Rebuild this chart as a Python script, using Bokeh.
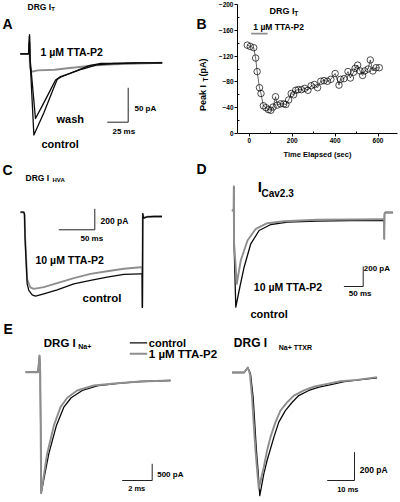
import math
from bokeh.plotting import figure
from bokeh.layouts import column, row
from bokeh.models import Range1d, FixedTicker
from bokeh.core.properties import value
from bokeh.embed import file_html
from bokeh.resources import INLINE

# ---------------- DATA ----------------
# Panel A: DRG T-type current (time ms, current pA)
a_ctrl_t = [-11, -1, 0, 0.6, 5.2, 17, 27, 33, 37, 45, 57, 71, 85, 105, 130, 158]
a_ctrl_i = [14, 14, 42, 8, -104, -72, -41, -23, -20, -16, -10, -3, 0, 0, 1, 1]
a_wash_t = [-11, -1, 0, 0.6, 7.1, 15, 23, 31, 37, 49, 63, 80, 100, 130, 158]
a_wash_i = [14, 14, 40, 8, -80, -62, -43, -24, -19, -14, -8, -2, 0, 1, 1]
a_tta_t = [-11, -1, 0, 0.5, 2, 10, 30, 45, 60, 75, 100, 130, 158]
a_tta_i = [14, 14, 30, -5, -12, -10, -9, -7, -5, -3, -1, 0, 1]
a_scale = (25, 50)          # ms, pA

# Panel B: peak I_T time course (sec, pA)
b_time = [-10, 4, 20, 29, 36, 47, 54, 65, 77, 89, 100, 110, 122, 130, 145, 160, 170,
          183, 195, 206, 216, 228, 243, 258, 273, 288, 303, 318, 333, 348, 364, 380,
          400, 418, 425, 441, 460, 471, 486, 493, 505, 516, 528, 538, 554, 564, 576,
          591, 606]
b_peak = [-137, -135, -133, -117, -96, -71, -62, -43, -40, -37, -36, -41, -57, -44,
          -46, -46, -45, -52, -62, -60, -67, -68, -68, -70, -67, -74, -76, -71, -81,
          -82, -81, -84, -93, -75, -84, -85, -96, -86, -95, -101, -106, -97, -90, -97,
          -100, -114, -97, -102, -102]
b_tta_period = [8, 85]
b_tta_level = -155
b_xticks = [0, 200, 400, 600]
b_xminor = [100, 300, 500]
b_yticks = [0, -40, -80, -120, -160, -200]
b_yminor = [-20, -60, -100, -140, -180]

# Panel C: DRG HVA current (ms, pA)
c_ctrl_t = [-5.6, -1, 0, 0.8, 3.7, 6, 10.7, 15.3, 26.8, 45.4, 68.5, 91.7, 114.8, 138,
            161, 163.4, 163.7, 164.3, 165.5, 170, 180, 191]
c_ctrl_i = [0, 0, -20, -250, -682, -745, -788, -800, -777, -739, -682, -650, -619,
            -593, -587, -587, -907, -15, -57, -44, -41, -41]
c_tta_t = [-5.6, -1, 0, 0.8, 3.7, 8, 12.9, 26.8, 45.4, 68.5, 91.7, 114.8, 138, 161,
           163.4, 163.7, 164.3, 165.5, 170, 180, 191]
c_tta_i = [0, 0, -20, -230, -640, -715, -730, -714, -676, -628, -587, -562, -539,
           -524, -524, -900, -15, -57, -44, -41, -41]
c_scale = (50, 200)

# Panel D: CaV2.3 current (ms, pA)
d_ctrl_t = [-5, -0.5, 0, 0.4, 5.2, 13.8, 26.7, 44, 65.6, 95.8, 139, 217, 303, 385,
            389.6, 389.9, 390.4, 392, 412]
d_ctrl_i = [0, 0, 240, -300, -967, -800, -567, -333, -200, -140, -117, -107, -100,
            -100, -100, -283, -33, -20, -20]
d_tta_t = [-5, -0.5, 0, 0.4, 7.8, 18, 35.5, 57, 87, 130, 217, 303, 385, 389.6, 389.9,
           390.4, 392, 412]
d_tta_i = [0, 0, 240, -300, -733, -500, -300, -183, -127, -107, -93, -90, -87, -87,
           -283, -33, -20, -20]
d_scale = (50, 200)

# Panel E left: DRG Na+ current (ms, pA)
el_ctrl_t = [-0.93, -0.1, 0, 0.05, 0.11, 0.62, 1.13, 1.62, 2.11, 2.85, 3.96, 5.4, 6.73, 8.73]
el_ctrl_i = [0, 0, 499, 0, -3618, -2440, -1594, -1047, -765, -547, -398, -329, -278, -248]
el_tta_t = [-0.93, -0.1, 0, 0.05, 0.11, 0.51, 0.96, 1.4, 1.85, 2.51, 3.62, 5.18, 6.73, 8.73]
el_tta_i = [0, 0, 499, 0, -3618, -2440, -1594, -1047, -765, -547, -398, -329, -278, -248]
el_scale = (2, 500)

# Panel E right: DRG TTX-resistant Na+ current (ms, pA)
er_ctrl_t = [-4.9, -0.5, 0.85, 1.83, 2.8, 3.4, 4.0, 4.6, 5.23, 6.7, 7.9, 10.4, 12.2,
             14.6, 17.1, 19.5, 23.2, 26.9, 31.3, 36.2, 42.3, 48.2]
er_ctrl_i = [0, 0, 35, -9, -175, -363, -551, -693, -870, -717, -622, -457, -351, -269,
             -210, -163, -127, -104, -85, -64, -50, -37]
er_tta_t = [-4.9, -0.5, 0.85, 1.6, 2.4, 3.0, 3.66, 4.28, 4.87, 6.1, 6.7, 7.9, 9.15,
            10.98, 12.8, 15.3, 17.7, 21.4, 25.3, 30, 34.8, 40.9, 48.2]
er_tta_i = [0, 0, 35, -9, -175, -363, -551, -693, -822, -717, -669, -551, -457, -351,
            -269, -210, -163, -127, -99, -80, -62, -52, -33]
er_scale = (10, 200)

# ---------------- STYLE / LAYOUT ----------------
FONT = "Liberation Sans"
BLACK = "#0a0a0a"
GRAY = "#8e8e8e"
LW_B = 1.3
LW_G = 1.9


class Tx:
    """maps page-pixel positions to a panel's data units"""
    def __init__(self, ax, sx, ay, sy):
        self.ax, self.sx, self.ay, self.sy = ax, sx, ay, sy

    def X(self, px):
        return (px - self.ax) * self.sx

    def Y(self, py):
        return (self.ay - py) * self.sy

    def ranges(self, l, r, t, b):
        return Range1d(self.X(l), self.X(r)), Range1d(self.Y(b), self.Y(t))


TA = Tx(29, 25 / 21, 63, 50 / 34.4)
TC = Tx(24, 50 / 36, 211.7, 200 / 21)
TD = Tx(233.3, 50 / 19.3, 210, 200 / 20)
TEL = Tx(39, 2 / 30, 371.7, 500 / 16.7)
TER = Tx(245, 10 / 27.3, 372, 200 / 28.3)


def no_align(p):
    if hasattr(p, "frame_align"):
        p.frame_align = False


def bare_fig(l, r, t, b):
    p = figure(width=int(r - l), height=int(b - t),
               x_range=Range1d(l, r), y_range=Range1d(b, t),
               output_backend="svg", toolbar_location=None,
               x_axis_location=None, y_axis_location=None,
               min_border=0, min_border_left=0, min_border_right=0,
               min_border_top=0, min_border_bottom=0)
    p.grid.visible = False
    p.outline_line_color = None
    p.background_fill_color = "white"
    p.border_fill_color = "white"
    no_align(p)
    return p


def txt(p, x, y, s, size, align="left", angle=0.0, rn=None):
    kw = {}
    if rn:
        kw = dict(x_range_name=rn, y_range_name=rn)
    p.text(x=[x], y=[y], text=[s], text_font=value(FONT),
           text_font_size=value(f"{size}px"), text_font_style=value("bold"),
           text_align=value(align), text_baseline=value("middle"),
           text_color="black", angle=angle, **kw)


def trace(p, t, i, color, lw, rn):
    p.line(t, i, line_color=color, line_width=lw, line_join="round",
           x_range_name=rn, y_range_name=rn)


def scalebar(p, tx, cx, cy, sc, rn):
    t0, i0 = tx.X(cx), tx.Y(cy)
    p.line([t0 - sc[0], t0, t0], [i0, i0, i0 + sc[1]], line_color="#222222",
           line_width=1, x_range_name=rn, y_range_name=rn)


# ---------- Figure A (also carries B's letter and y title) ----------
AL, AR, AT, AB = 0, 215, 0, 161
pA = bare_fig(AL, AR, AT, AB)
xr, yr = TA.ranges(AL, AR, AT, AB)
pA.extra_x_ranges = {"A": xr}
pA.extra_y_ranges = {"A": yr}
trace(pA, a_tta_t, a_tta_i, GRAY, LW_G, "A")
trace(pA, a_wash_t, a_wash_i, BLACK, LW_B, "A")
trace(pA, a_ctrl_t, a_ctrl_i, BLACK, LW_B, "A")
scalebar(pA, TA, 127.7, 121.7, a_scale, "A")
txt(pA, 2, 23.3, "A", 14)
txt(pA, 27, 6, "DRG I", 8.5)
txt(pA, 50.8, 8.5, "T", 6)
txt(pA, 40, 51.7, "1 \u00b5M TTA-P2", 10.5)
txt(pA, 56, 118.5, "wash", 11)
txt(pA, 41, 143, "control", 11)
txt(pA, 134, 107.5, f"{a_scale[1]} pA", 8)
txt(pA, 112, 131, f"{a_scale[0]} ms", 8)
# B's panel letter and rotated y title
txt(pA, 196, 23.3, "B", 14)
txt(pA, 202, 110.5, "Peak I", 9, angle=math.pi / 2)
txt(pA, 205, 81, "T", 6.5, angle=math.pi / 2)
txt(pA, 202, 76, "(pA)", 9, angle=math.pi / 2)

# ---------- Figure B ----------
BL, BR, BT, BB = 215, 400, 0, 161
FL, FR, FT, FB = 232, 397, 4, 137
bx0 = 244.3
bxs = 200 / 44.2
pB = figure(width=BR - BL, height=BB - BT,
            x_range=Range1d((FL - bx0) * bxs, (FR - bx0) * bxs),
            y_range=Range1d(0, -200),
            output_backend="svg", toolbar_location=None,
            min_border_left=FL - BL, min_border_right=BR - FR,
            min_border_top=FT - BT, min_border_bottom=BB - FB)
no_align(pB)
pB.extra_x_ranges = {"px": Range1d(FL, FR)}
pB.extra_y_ranges = {"px": Range1d(FB, FT)}
pB.grid.visible = False
pB.outline_line_color = None
for ax in (pB.xaxis[0], pB.yaxis[0]):
    ax.axis_line_color = "black"
    ax.axis_line_width = 1
    ax.major_tick_line_color = "black"
    ax.minor_tick_line_color = "black"
    ax.major_tick_out = 3
    ax.major_tick_in = 0
    ax.minor_tick_out = 0
    ax.minor_tick_in = 2
    ax.major_label_text_font = FONT
    ax.major_label_text_font_size = "6.5px"
    ax.major_label_text_font_style = "bold"
    ax.major_label_text_color = "black"
    ax.major_label_standoff = 1
pB.xaxis.ticker = FixedTicker(ticks=b_xticks, minor_ticks=b_xminor)
pB.yaxis.ticker = FixedTicker(ticks=b_yticks, minor_ticks=b_yminor)
pB.xaxis.axis_label = "Time Elapsed (sec)"
pB.xaxis.axis_label_text_font = FONT
pB.xaxis.axis_label_text_font_size = "7.5px"
pB.xaxis.axis_label_text_font_style = "bold"
pB.xaxis.axis_label_text_color = "black"
pB.xaxis.axis_label_standoff = 4

pB.line(b_tta_period, [b_tta_level, b_tta_level], line_color=GRAY, line_width=1.8)
pB.line(b_time, b_peak, line_color="black", line_width=0.6)
pB.scatter(b_time, b_peak, marker="circle", size=6.5, fill_color=None,
           line_color="black", line_width=0.7)
txt(pB, 265, 10.5, "DRG I", 9, rn="px")
txt(pB, 290.5, 13.5, "T", 6.5, rn="px")
txt(pB, 248.3, 27, "1 \u00b5M TTA-P2", 8.5, rn="px")

# ---------- Figure C/D/E ----------
RL, RR, RT, RB = 0, 400, 161, 502
pR = bare_fig(RL, RR, RT, RB)
for name, tx in (("C", TC), ("D", TD), ("EL", TEL), ("ER", TER)):
    xr, yr = tx.ranges(RL, RR, RT, RB)
    pR.extra_x_ranges[name] = xr
    pR.extra_y_ranges[name] = yr

# C
trace(pR, c_tta_t, c_tta_i, GRAY, LW_G, "C")
trace(pR, c_ctrl_t, c_ctrl_i, BLACK, LW_B, "C")
scalebar(pR, TC, 94.3, 229.3, c_scale, "C")
txt(pR, 2, 169, "C", 14)
txt(pR, 25, 177, "DRG I", 8.5)
txt(pR, 52, 179.5, "HVA", 6)
txt(pR, 100, 220, f"{c_scale[1]} pA", 8.5)
txt(pR, 80, 238.3, f"{c_scale[0]} ms", 8)
txt(pR, 35, 259.3, "10 \u00b5M TTA-P2", 10.5)
txt(pR, 82, 297, "control", 11.5)

# D
trace(pR, d_ctrl_t, d_ctrl_i, BLACK, LW_B, "D")
trace(pR, d_tta_t, d_tta_i, GRAY, LW_G, "D")
scalebar(pR, TD, 362.7, 286, d_scale, "D")
txt(pR, 196, 168.5, "D", 14)
txt(pR, 257.3, 186, "I", 15)
txt(pR, 261, 193, "Cav2.3", 10)
txt(pR, 253.3, 286.7, "10 \u00b5M TTA-P2", 10.5)
txt(pR, 250, 313.3, "control", 11)
txt(pR, 363.3, 268.3, f"{d_scale[1]} pA", 8)
txt(pR, 348.3, 293.3, f"{d_scale[0]} ms", 8)

# E left
trace(pR, el_ctrl_t, el_ctrl_i, BLACK, LW_B, "EL")
trace(pR, el_tta_t, el_tta_i, GRAY, LW_G, "EL")
scalebar(pR, TEL, 151.7, 480, el_scale, "EL")
txt(pR, 3, 328.3, "E", 14)
txt(pR, 43.3, 342.3, "DRG I", 11.5)
txt(pR, 77.7, 346, "Na+", 7)
pR.line([129.3, 146.7], [342.3, 342.3], line_color=BLACK, line_width=LW_B)
pR.line([129.3, 146.7], [353.3, 353.3], line_color=GRAY, line_width=LW_G)
txt(pR, 148.3, 342.3, "control", 11)
txt(pR, 148.3, 353.3, "1 \u00b5M TTA-P2", 11.5)
txt(pR, 156.7, 474, f"{el_scale[1]} pA", 8)
txt(pR, 127.7, 487.7, f"{el_scale[0]} ms", 7.5)

# E right
trace(pR, er_ctrl_t, er_ctrl_i, BLACK, LW_B, "ER")
trace(pR, er_tta_t, er_tta_i, GRAY, LW_G, "ER")
scalebar(pR, TER, 354, 480, er_scale, "ER")
txt(pR, 233.3, 342.8, "DRG I", 12)
txt(pR, 278.3, 347.2, "Na+ TTXR", 7)
txt(pR, 359.3, 469, f"{er_scale[1]} pA", 8.5)
txt(pR, 336.7, 488.7, f"{er_scale[0]} ms", 7.5)

layout = column(row(pA, pB, spacing=0), pR, spacing=0)
open("out.html", "w").write(file_html(layout, INLINE))
